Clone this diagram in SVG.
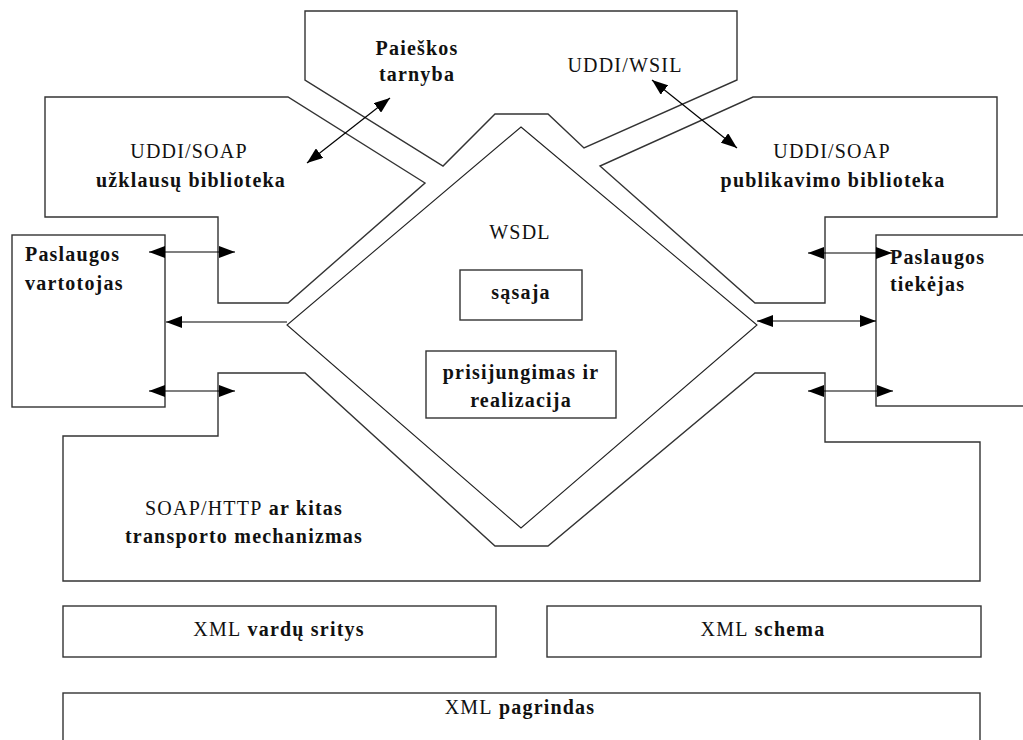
<svg xmlns="http://www.w3.org/2000/svg" width="1023" height="740" viewBox="0 0 1023 740">
  <defs>
    <marker id="head" viewBox="0 0 16 12" refX="16" refY="6" markerWidth="16" markerHeight="12" markerUnits="userSpaceOnUse" orient="auto-start-reverse">
      <path d="M0,0 L16,6 L0,12 Z" fill="#000"/>
    </marker>
    <style>
      .shape { fill: none; stroke: #333; stroke-width: 1.4; }
      .thin { fill: none; stroke: #222; stroke-width: 1.1; }
      .box { fill: #fff; stroke: #333; stroke-width: 1.4; }
      .arrow { fill: none; stroke: #000; stroke-width: 1.2; }
      .both { marker-start: url(#head); marker-end: url(#head); }
      .one { marker-end: url(#head); }
      text { font-family: "Liberation Serif", "Times New Roman", serif; font-size: 20px; font-weight: bold; letter-spacing: 1.2px; fill: #111; }
      .c { text-anchor: middle; }
      .reg { font-weight: normal; }
    </style>
  </defs>
  <rect width="1023" height="740" fill="#fff"/>

  <!-- discovery service -->
  <g id="paieskos-tarnyba">
    <path class="shape" d="M305,11 H737 V80 L584,148 L548,114 H495 L443,166 L305,80 Z"/>
    <text class="c" x="417" y="55">Paieškos</text>
    <text class="c" x="417" y="81">tarnyba</text>
    <text class="c reg" x="625" y="72">UDDI/WSIL</text>
  </g>

  <!-- query library -->
  <g id="uzklausu-biblioteka">
    <path class="shape" d="M45,97 H288 L425,183 L288,303 H218 V217 H45 Z"/>
    <text class="c reg" x="189" y="158">UDDI/SOAP</text>
    <text class="c" x="191" y="187">užklausų biblioteka</text>
  </g>

  <!-- publishing library -->
  <g id="publikavimo-biblioteka">
    <path class="shape" d="M997,97 H753 L600,166 L755,303 H825 V217 H997 Z"/>
    <text class="c reg" x="832" y="158">UDDI/SOAP</text>
    <text class="c" x="833" y="187">publikavimo biblioteka</text>
  </g>

  <!-- WSDL diamond -->
  <g id="wsdl">
    <path class="thin" d="M521,127 L757,325 L521,528 L287,325 Z"/>
    <text class="c reg" x="520" y="239">WSDL</text>
  </g>
  <g id="sasaja">
    <rect class="box" x="460" y="270" width="122" height="50"/>
    <text class="c" x="521" y="299">sąsaja</text>
  </g>
  <g id="prisijungimas">
    <rect class="box" x="426" y="351" width="190" height="67"/>
    <text class="c" x="521" y="379">prisijungimas ir</text>
    <text class="c" x="521" y="407">realizacija</text>
  </g>

  <!-- transport layer -->
  <g id="transportas">
    <path class="shape" d="M218,436 V373 H305 L495,546 H548 L755,373 H825 V442 H980 V581 H63 V436 Z"/>
    <text class="c" x="244" y="515"><tspan class="reg">SOAP/HTTP</tspan> ar kitas</text>
    <text class="c" x="244" y="543">transporto mechanizmas</text>
  </g>

  <!-- service consumer / provider -->
  <g id="vartotojas">
    <rect class="box" x="12" y="235" width="153" height="172"/>
    <text x="25" y="261">Paslaugos</text>
    <text x="25" y="290">vartotojas</text>
  </g>
  <g id="tiekejas">
    <rect class="box" x="876" y="235" width="200" height="171"/>
    <text x="890" y="264">Paslaugos</text>
    <text x="890" y="291">tiekėjas</text>
  </g>

  <!-- XML foundation -->
  <g id="xml-vardu-sritys">
    <rect class="box" x="63" y="606" width="433" height="51"/>
    <text class="c" x="279" y="636"><tspan class="reg">XML</tspan> vardų sritys</text>
  </g>
  <g id="xml-schema">
    <rect class="box" x="547" y="606" width="434" height="51"/>
    <text class="c" x="763" y="636"><tspan class="reg">XML</tspan> schema</text>
  </g>
  <g id="xml-pagrindas">
    <rect class="box" x="63" y="693" width="917" height="60"/>
    <text class="c" x="520" y="714"><tspan class="reg">XML</tspan> pagrindas</text>
  </g>

  <!-- connectors -->
  <g id="connectors">
    <line class="arrow both" x1="149" y1="252" x2="235" y2="252"/>
    <line class="arrow one" x1="287" y1="322" x2="166" y2="322"/>
    <line class="arrow both" x1="149" y1="391" x2="235" y2="391"/>
    <line class="arrow both" x1="808" y1="253" x2="892" y2="253"/>
    <line class="arrow both" x1="757" y1="321" x2="876" y2="321"/>
    <line class="arrow both" x1="808" y1="391" x2="893" y2="391"/>
    <line class="arrow both" x1="307" y1="163" x2="390" y2="98"/>
    <line class="arrow both" x1="652" y1="80" x2="737" y2="148"/>
  </g>
</svg>
